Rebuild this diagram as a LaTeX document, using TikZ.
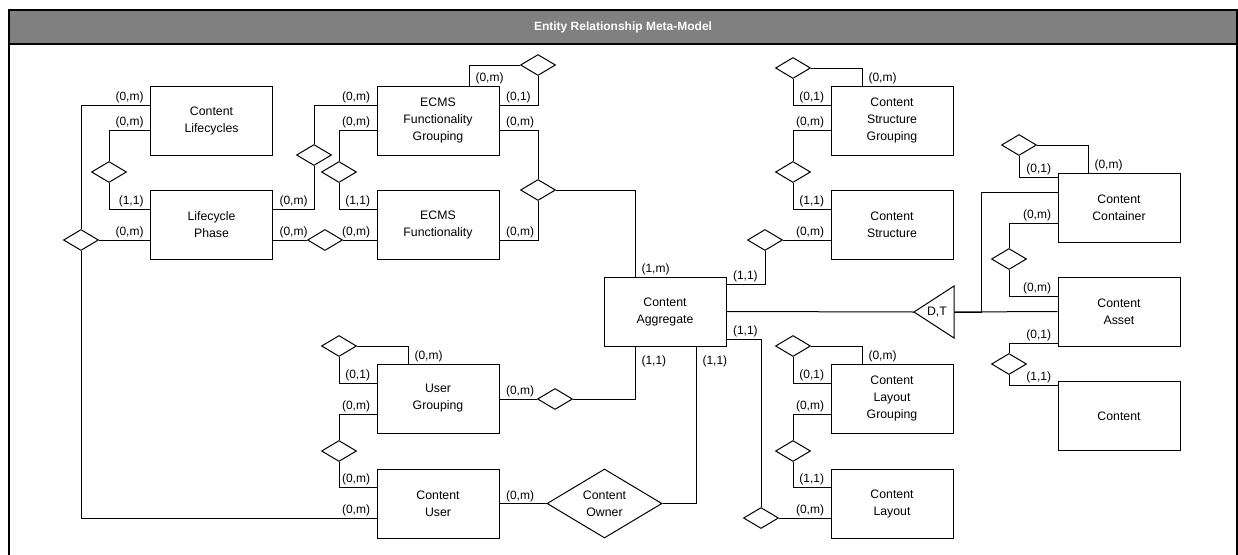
\documentclass[tikz,border=0pt]{standalone}
\usepackage{fontspec}
\setmainfont{Liberation Sans}
\usetikzlibrary{shapes.geometric}
\definecolor{hdrgray}{HTML}{808080}
\begin{document}
\begin{tikzpicture}[x=1pt,y=-1pt,
  ent/.style={draw, line width=1pt, minimum width=122pt, minimum height=69pt, inner sep=0pt, align=center, font=\fontsize{12.3}{17}\selectfont},
  rel/.style={draw, diamond, line width=1pt, minimum width=35pt, minimum height=21pt, inner sep=0pt, fill=white},
  bigrel/.style={draw, diamond, line width=1pt, minimum width=115pt, minimum height=69pt, inner sep=0pt, aspect=1.67, align=center, font=\fontsize{12.3}{17}\selectfont},
  conn/.style={line width=1pt},
  lbl/.style={inner sep=1.5pt, font=\fontsize{12}{14}\selectfont},
  lblL/.style={lbl, anchor=south east, xshift=-4.5pt},
  lblR/.style={lbl, anchor=south west, xshift=4.5pt},
  lblT/.style={lbl, anchor=south west, xshift=4.5pt},
  lblB/.style={lbl, anchor=north west, xshift=4.5pt, yshift=-7pt}
]
\useasboundingbox (0,0) rectangle (1238,554);
% frame and header
\fill[hdrgray] (9,10) rectangle (1237,44);
\draw[line width=1.6pt] (9,560) -- (9,10) -- (1237,10) -- (1237,560);
\draw[line width=2.2pt] (9,44) -- (1237,44);
\node[font=\bfseries\fontsize{12}{14}\selectfont, text=white] (title) at (623,27) {Entity Relationship Meta-Model};

% entities
\node[ent] (CL)   at (211.5,120.5) {Content\\Lifecycles};
\node[ent] (LP)   at (211.5,225)   {Lifecycle\\Phase};
\node[ent] (EFG)  at (438,120.5)   {ECMS\\Functionality\\Grouping};
\node[ent] (EF)   at (438,225)     {ECMS\\Functionality};
\node[ent] (CA)   at (665,311.5)   {Content\\Aggregate};
\node[ent] (UG)   at (438,398.5)   {User\\Grouping};
\node[ent] (CU)   at (438,503.5)   {Content\\User};
\node[ent] (CSG)  at (892,120.5)   {Content\\Structure\\Grouping};
\node[ent] (CS)   at (892,225)     {Content\\Structure};
\node[ent] (CLG)  at (892,398.5)   {Content\\Layout\\Grouping};
\node[ent] (CLay) at (892,503.5)   {Content\\Layout};
\node[ent] (CC)   at (1119,207.5)  {Content\\Container};
\node[ent] (CAs)  at (1119,311.5)  {Content\\Asset};
\node[ent] (Cont) at (1119,416)    {Content};

% relationships
\node[rel] (d1)  at (81,240) {};
\node[rel] (d2)  at (109,172) {};
\node[rel] (d3)  at (314,155) {};
\node[rel] (d4)  at (339,172) {};
\node[rel] (d5)  at (325,240) {};
\node[rel] (d6)  at (538,65) {};
\node[rel] (d7)  at (538,190) {};
\node[rel] (d8)  at (765,240) {};
\node[rel] (d9)  at (793,68) {};
\node[rel] (d10) at (793,172) {};
\node[rel] (d11) at (1019,145) {};
\node[rel] (d12) at (1009,259) {};
\node[rel] (d13) at (1009,364) {};
\node[rel] (d14) at (761,518) {};
\node[rel] (d15) at (793,346) {};
\node[rel] (d16) at (793,451) {};
\node[rel] (d17) at (339,346) {};
\node[rel] (d18) at (339,451) {};
\node[rel] (d19) at (555,399) {};
\node[bigrel] (own) at (604.5,503.5) {Content\\Owner};

% D,T triangle
\coordinate (tritip) at (914,312);
\coordinate (tribase) at (954,312);
\draw[line width=1pt] (tritip) -- (954,286) -- (954,338) -- cycle;
\node[font=\fontsize{12.3}{14}\selectfont, inner sep=0pt] (dt) at (937,312) {D,T};
\coordinate (j1) at (981,192);

% connectors
\draw[conn] (CL.west |- 0,105) node[lblL] (l1) {(0,m)} -| (d1.north);
\draw[conn] (d1.east) -- (LP.west |- d1.east) node[lblL] (l2) {(0,m)};
\draw[conn] (d1.south) |- (CU.west |- 0,518) node[lblL] (l3) {(0,m)};
\draw[conn] (CL.west |- 0,130) node[lblL] (l4) {(0,m)} -| (d2.north);
\draw[conn] (d2.south) |- (LP.west |- 0,209) node[lblL] (l5) {(1,1)};
\draw[conn] (LP.east |- 0,209) node[lblR] (l6) {(0,m)} -| (d3.south);
\draw[conn] (d3.north) |- (EFG.west |- 0,105) node[lblL] (l7) {(0,m)};
\draw[conn] (EFG.west |- 0,130) node[lblL] (l8) {(0,m)} -| (d4.north);
\draw[conn] (d4.south) |- (EF.west |- 0,209) node[lblL] (l9) {(1,1)};
\draw[conn] (LP.east |- 0,240) node[lblR] (l10) {(0,m)} -- (d5.west);
\draw[conn] (d5.east) -- (EF.west |- 0,240) node[lblL] (l11) {(0,m)};
\draw[conn] (EFG.north -| 469,0) node[lblT] (l12) {(0,m)} |- (d6.west);
\draw[conn] (d6.south) |- (EFG.east |- 0,105) node[lblR] (l13) {(0,1)};
\draw[conn] (EFG.east |- 0,130) node[lblR] (l14) {(0,m)} -| (d7.north);
\draw[conn] (d7.south) |- (EF.east |- 0,240) node[lblR] (l15) {(0,m)};
\draw[conn] (d7.east) -| (CA.north -| 635,0) node[lblT] (l16) {(1,m)};
\draw[conn] (CA.east |- 0,284) node[lblR] (l17) {(1,1)} -| (d8.south);
\draw[conn] (d8.east) -- (CS.west |- d8.east) node[lblL] (l18) {(0,m)};
\draw[conn] (CSG.north -| 862,0) node[lblT] (l19) {(0,m)} |- (d9.east);
\draw[conn] (d9.south) |- (CSG.west |- 0,105) node[lblL] (l20) {(0,1)};
\draw[conn] (CSG.west |- 0,130) node[lblL] (l21) {(0,m)} -| (d10.north);
\draw[conn] (d10.south) |- (CS.west |- 0,209) node[lblL] (l22) {(1,1)};
\draw[conn] (CA.east) -- (tritip);
\draw[conn] (tribase) -- (CAs.west);
\draw[conn] (tribase) -| (j1) -- (CC.west |- j1);
\draw[conn] (CC.north -| 1088,0) node[lblT] (l23) {(0,m)} |- (d11.east);
\draw[conn] (d11.south) |- (CC.west |- 0,177) node[lblL] (l24) {(0,1)};
\draw[conn] (CC.west |- 0,223) node[lblL] (l25) {(0,m)} -| (d12.north);
\draw[conn] (d12.south) |- (CAs.west |- 0,296) node[lblL] (l26) {(0,m)};
\draw[conn] (CAs.west |- 0,343) node[lblL] (l27) {(0,1)} -| (d13.north);
\draw[conn] (d13.south) |- (Cont.west |- 0,385) node[lblL] (l28) {(1,1)};
\draw[conn] (CA.east |- 0,339) node[lblR] (l29) {(1,1)} -| (d14.north);
\draw[conn] (d14.east) -- (CLay.west |- d14.east) node[lblL] (l30) {(0,m)};
\draw[conn] (CLG.north -| 862,0) node[lblT] (l31) {(0,m)} |- (d15.east);
\draw[conn] (d15.south) |- (CLG.west |- 0,383) node[lblL] (l32) {(0,1)};
\draw[conn] (CLG.west |- 0,414) node[lblL] (l33) {(0,m)} -| (d16.north);
\draw[conn] (d16.south) |- (CLay.west |- 0,487) node[lblL] (l34) {(1,1)};
\draw[conn] (UG.north -| 408,0) node[lblT] (l35) {(0,m)} |- (d17.east);
\draw[conn] (d17.south) |- (UG.west |- 0,383) node[lblL] (l36) {(0,1)};
\draw[conn] (UG.west |- 0,414) node[lblL] (l37) {(0,m)} -| (d18.north);
\draw[conn] (d18.south) |- (CU.west |- 0,487) node[lblL] (l38) {(0,m)};
\draw[conn] (UG.east |- 0,399) node[lblR] (l39) {(0,m)} -- (d19.west);
\draw[conn] (d19.east) -| (CA.south -| 635,0) node[lblB] (l40) {(1,1)};
\draw[conn] (CU.east) node[lblR] (l41) {(0,m)} -- (own.west);
\draw[conn] (own.east) -| (CA.south -| 696,0) node[lblB] (l42) {(1,1)};
\end{tikzpicture}
\end{document}
